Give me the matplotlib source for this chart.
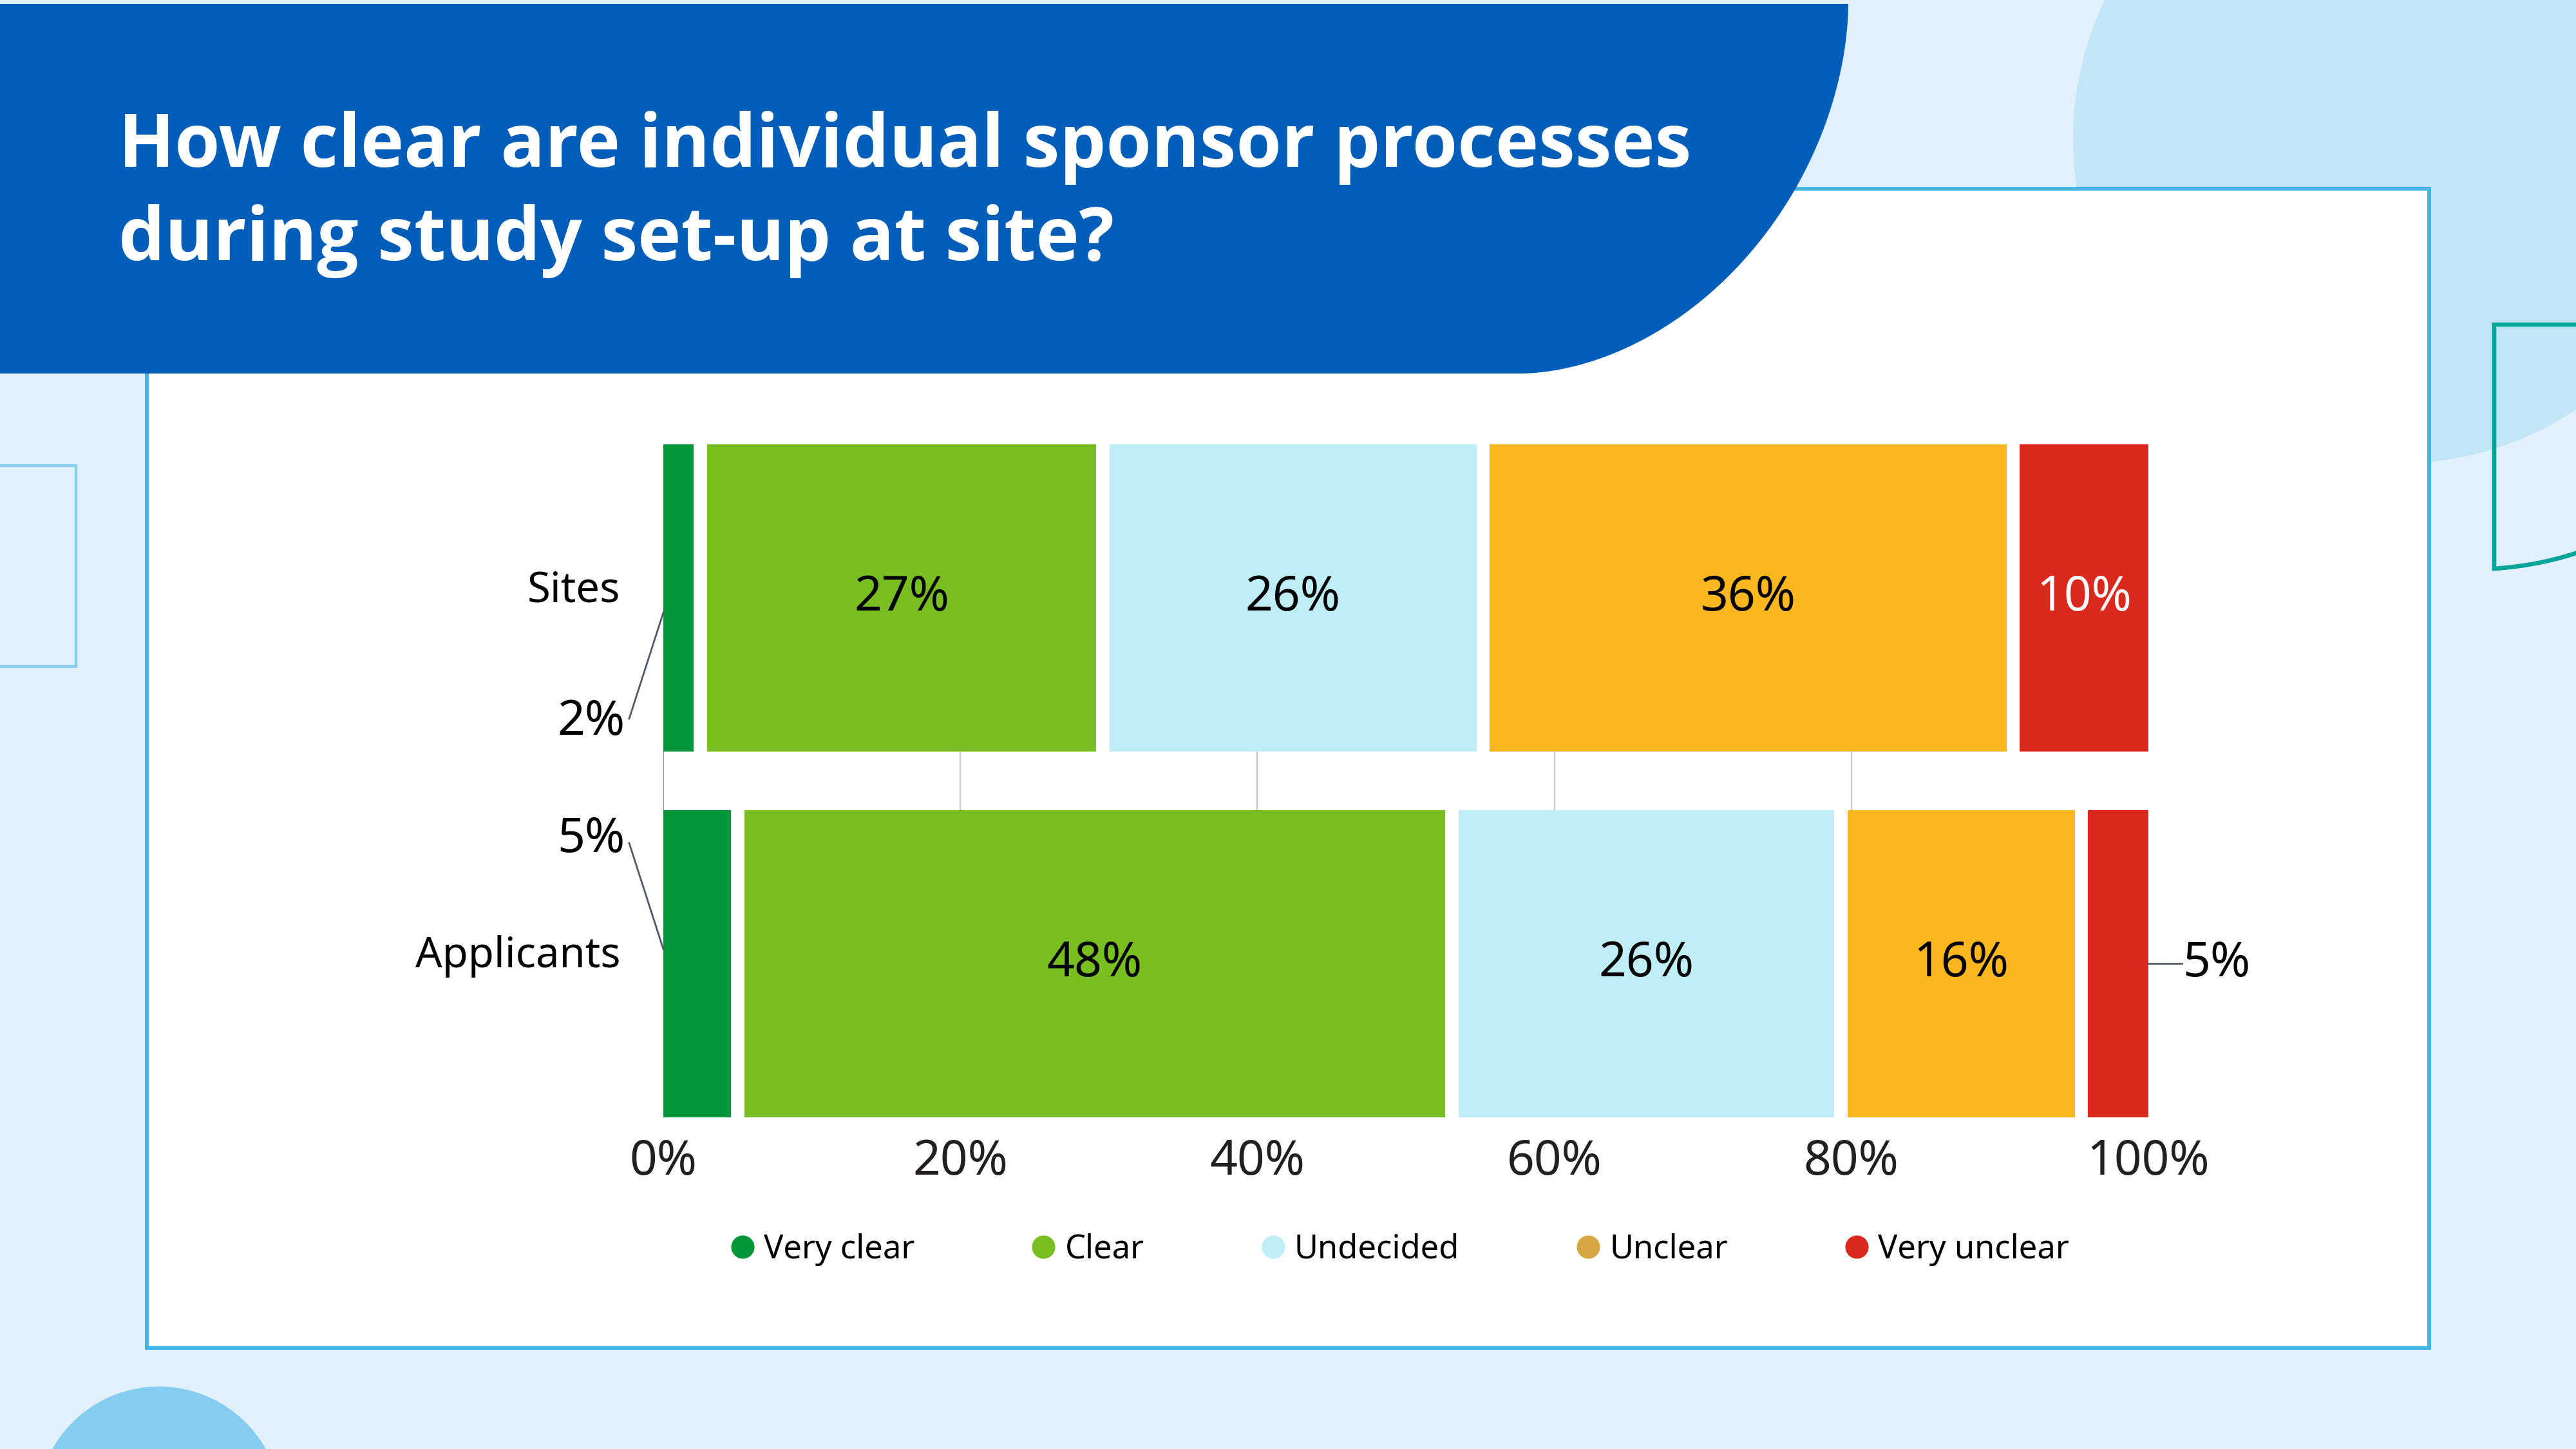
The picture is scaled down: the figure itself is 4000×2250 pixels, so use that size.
import matplotlib
matplotlib.use("Agg")
import matplotlib.pyplot as plt
from matplotlib.patches import Circle, Rectangle, PathPatch, Polygon
from matplotlib.path import Path
from matplotlib.lines import Line2D
import numpy as np

plt.rcParams['font.family'] = ['Noto Sans', 'DejaVu Sans']

# data
title_lines = ["How clear are individual sponsor processes",
               "during study set-up at site?"]
groups = ["Sites", "Applicants"]
responses = ["Very clear", "Clear", "Undecided", "Unclear", "Very unclear"]
sites = [2.5, 27.1, 25.6, 35.7, 9.1]
applicants = [5.0, 48.1, 26.2, 16.2, 4.5]
sites_labels = ["2%", "27%", "26%", "36%", "10%"]
applicants_labels = ["5%", "48%", "26%", "16%", "5%"]
x_ticks = [0, 20, 40, 60, 80, 100]
x_tick_labels = ["0%", "20%", "40%", "60%", "80%", "100%"]

bar_colors = ["#009639", "#78BE20", "#C0EEF6", "#FDB71E", "#DA291C"]
legend_colors = ["#009639", "#78BE20", "#C0EEF6", "#D5A843", "#DA291C"]

W, H = 4000, 2250


def draw_background(fig):
    bg = fig.add_axes([0, 0, 1, 1])
    bg.set_xlim(0, W)
    bg.set_ylim(H, 0)
    bg.axis('off')
    bg.set_zorder(0)
    bg.add_patch(Rectangle((0, 0), W, H, fc="#E1F1FB", ec="none"))
    bg.add_patch(Circle((3722, 217), 503, fc="#C2E6F8", ec="none"))
    bg.add_patch(Rectangle((-20, 723), 138, 312, fc="none", ec="#86CFF2", lw=3.2))
    teal = Path([(4020, 504), (3873, 504), (3873, 883), (3950, 878), (4020, 852)],
                [Path.MOVETO, Path.LINETO, Path.LINETO, Path.CURVE3, Path.CURVE3])
    bg.add_patch(PathPatch(teal, fc="none", ec="#00A499", lw=4.8))
    bg.add_patch(Circle((247, 2343), 190, fc="#85CDF0", ec="none"))
    # white chart panel
    bg.add_patch(Rectangle((228, 293), 3544, 1800, fc="white", ec="#41B6E6", lw=4.3))
    # blue title banner with curved right edge
    t = np.linspace(0, np.pi / 2, 80)
    n = 1.85
    ex = 2360 + 510 * np.cos(t) ** (2 / n)
    ey = 6 + 574 * np.sin(t) ** (2 / n)
    pts = [(0, 6)] + list(zip(ex, ey)) + [(0, 580)]
    bg.add_patch(Polygon(pts, closed=True, fc="#005EB8", ec="none"))
    for i, line in enumerate(title_lines):
        bg.text(184, 259 + i * 145, line, color="white", fontsize=82,
                fontweight="bold", family=["Open Sans", "Lato", "DejaVu Sans"],
                va="baseline", ha="left")
    return bg


def draw_chart(fig):
    ax = fig.add_axes([1030 / W, 1 - 1735 / H, (3336 - 1030) / W, (1735 - 690) / H])
    ax.set_zorder(1)
    ax.patch.set_visible(False)
    bar_h = 0.84
    gap = 0.89
    ax.set_xlim(0, 100)
    ax.set_ylim(1 + bar_h / 2, -bar_h / 2)

    rows = [sites, applicants]
    row_labels = [sites_labels, applicants_labels]
    n = len(responses)
    for r, (vals, labs) in enumerate(zip(rows, row_labels)):
        cum = 0.0
        for i, (v, lab) in enumerate(zip(vals, labs)):
            left = cum + (gap / 2 if i > 0 else 0)
            right = cum + v - (gap / 2 if i < n - 1 else 0)
            ax.barh(r, right - left, left=left, height=bar_h,
                    color=bar_colors[i], linewidth=0, zorder=2)
            mid = (left + right) / 2
            if v >= 6:
                tc = "white" if i == n - 1 else "black"
                ax.text(mid, r, lab, ha="center", va="center", fontsize=54,
                        color=tc, zorder=3)
            elif i == 0:
                d = 1 if r == 0 else -1
                ax.plot([-2.3, 0], [r + d * 0.33, r + d * 0.04], color="#4F5B66",
                        lw=2, clip_on=False, zorder=3)
                ax.text(-2.6, r + d * 0.34, lab, ha="right", va="center",
                        fontsize=54, color="black", clip_on=False)
            else:
                ax.plot([100, 102.25], [r, r], color="#4F5B66", lw=2,
                        clip_on=False, zorder=3)
                ax.text(102.3, r, lab, ha="left", va="center", fontsize=54,
                        color="black", clip_on=False)
            cum += v

    for r, g in enumerate(groups):
        ax.text(-2.9, r - 0.02, g, ha="right", va="center", fontsize=47,
                color="black", clip_on=False)

    ax.set_yticks([])
    ax.set_xticks(x_ticks)
    ax.set_xticklabels(x_tick_labels, fontsize=54, color="#231F20")
    ax.tick_params(axis="x", length=0, pad=23)
    for s in ax.spines.values():
        s.set_visible(False)
    ax.set_axisbelow(True)
    ax.grid(axis="x", color="#C8C8C8", lw=1.6, zorder=0)
    gl = ax.get_xgridlines()
    gl[0].set_color("#8E8E8E")
    gl[-1].set_visible(False)

    handles = [Line2D([], [], marker="o", ls="none", markersize=26,
                      markerfacecolor=c, markeredgecolor="none")
               for c in legend_colors]
    fig.legend(handles, responses, loc="center", bbox_to_anchor=(0.5435, 1 - 1940 / H),
               ncol=5, frameon=False, fontsize=36.5, handlelength=0.7,
               handletextpad=0.3, columnspacing=3.6, labelcolor="black")
    return ax


def main():
    fig = plt.figure(figsize=(40, 22.5), dpi=100)
    draw_background(fig)
    draw_chart(fig)
    fig.savefig("out.png", dpi=100)


if __name__ == "__main__":
    main()
